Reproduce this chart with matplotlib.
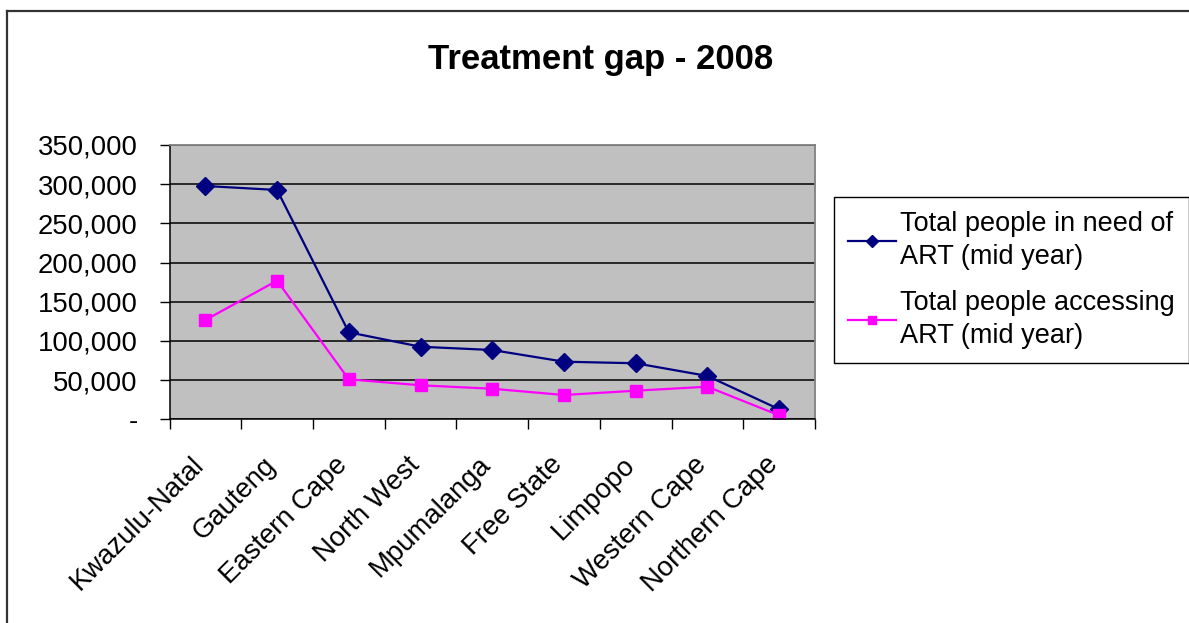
import matplotlib
matplotlib.use("Agg")
from matplotlib import pyplot as plt
from matplotlib.lines import Line2D
from matplotlib.ticker import FuncFormatter, FixedLocator
from matplotlib.transforms import ScaledTranslation

plt.rcParams['font.family'] = ['Liberation Sans', 'DejaVu Sans']

provinces = ["Kwazulu-Natal", "Gauteng", "Eastern Cape", "North West", "Mpumalanga",
             "Free State", "Limpopo", "Western Cape", "Northern Cape"]
in_need = [297700, 292600, 111000, 92600, 88400, 73500, 71500, 55300, 12800]
accessing = [126700, 176900, 51000, 43400, 39000, 31000, 36500, 41600, 5100]
labels = ["Total people in need of\nART (mid year)", "Total people accessing\nART (mid year)"]

W, H = 1189, 623
fig = plt.figure(figsize=(W / 100, H / 100), dpi=100)
ax = fig.add_axes([169.5 / W, 1 - 419.3 / H, (815 - 169.5) / W, (419.3 - 145) / H])

x = list(range(len(provinces)))
ax.plot(x, in_need, color="#000080", lw=1.6, marker="D", ms=9.5, label=labels[0])
ax.plot(x, accessing, color="#FF00FF", lw=1.6, marker="s", ms=8, label=labels[1])

ax.set_facecolor("#C0C0C0")
ax.set_xlim(-0.5, len(provinces) - 0.5)
ax.set_ylim(0, 350000)
ax.set_yticks(range(0, 350001, 50000))
ax.yaxis.set_major_formatter(FuncFormatter(lambda v, p: "-" if v == 0 else f"{int(v):,}"))
ax.grid(axis="y", color="black", lw=1.1)
ax.set_axisbelow(True)
ax.tick_params(axis="y", labelsize=19.8, length=7, width=1, pad=16, direction="out")

ax.set_xticks(x)
ax.set_xticklabels(provinces, rotation=45, ha="right", va="center",
                   rotation_mode="anchor", fontsize=19.8)
ax.tick_params(axis="x", which="major", length=0, pad=30)
ax.xaxis.set_minor_locator(FixedLocator([i - 0.5 for i in range(len(provinces) + 1)]))
ax.tick_params(axis="x", which="minor", length=7, width=1, direction="out")
# nudge the rotated labels a little to the left
shift = ScaledTranslation(-5 / 100, 0, fig.dpi_scale_trans)
for lab in ax.get_xticklabels():
    lab.set_transform(lab.get_transform() + shift)

for s in ["top", "right"]:
    ax.spines[s].set_color("#808080")
    ax.spines[s].set_linewidth(1.3)
for s in ["left", "bottom"]:
    ax.spines[s].set_color("black")
    ax.spines[s].set_linewidth(1.1)

fig.text(601 / W, 1 - 59 / H, "Treatment gap - 2008", ha="center", va="center",
         fontsize=25, fontweight="bold")

leg = ax.legend(loc="upper left", bbox_to_anchor=(834 / W, 1 - 197 / H),
                bbox_transform=fig.transFigure, fontsize=19.5, frameon=True,
                fancybox=False, edgecolor="black", framealpha=1, handlelength=1.8,
                borderpad=0.5, labelspacing=0.72, handletextpad=0.15, borderaxespad=0)
leg.get_frame().set_linewidth(1)
for t in leg.get_texts():
    t.set_linespacing(1.38)
for h in leg.legend_handles:
    h.set_markersize(6)

# outer chart border
fig.add_artist(Line2D([7 / W, 1], [1 - 10.5 / H, 1 - 10.5 / H], color="#333333", lw=1.6))
fig.add_artist(Line2D([7 / W, 7 / W], [0, 1 - 10.5 / H], color="#333333", lw=1.6))

fig.savefig("out.png", dpi=100)
